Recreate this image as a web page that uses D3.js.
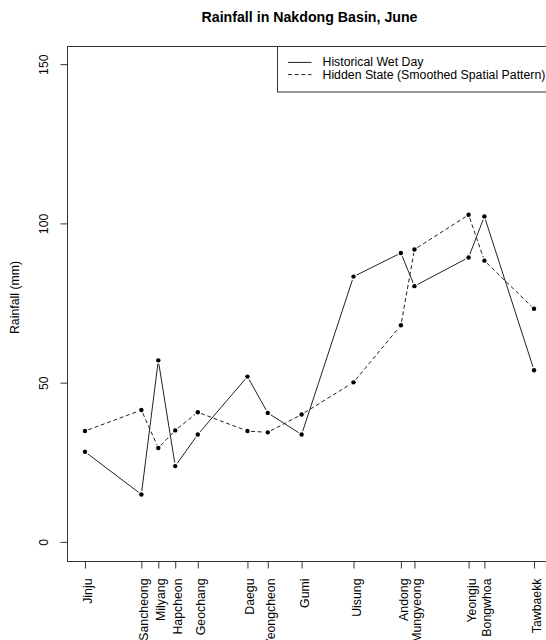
<!DOCTYPE html>
<html>
<head>
<meta charset="utf-8">
<script src="https://cdn.jsdelivr.net/npm/d3@7"></script>
<style>
  html, body { margin: 0; padding: 0; background: #fff; overflow: hidden; }
  svg { display: block; font-family: "Liberation Sans", Arial, sans-serif; }
</style>
</head>
<body>
<script>
// Stations along the Nakdong basin, ordered south to north by latitude
const stations = ["Jinju", "Sancheong", "Milyang", "Hapcheon", "Geochang", "Daegu", "Yeongcheon",
  "Gumi", "Uisung", "Andong", "Mungyeong", "Yeongju", "Bongwhoa", "Tawbaekk"];
const latitude = [35.18, 35.43, 35.505, 35.58, 35.68, 35.90, 35.99,
  36.14, 36.37, 36.58, 36.64, 36.88, 36.95, 37.17];
// June rainfall (mm)
const historicalWetDay = [28.3, 14.9, 57.0, 23.8, 33.7, 51.9, 40.5,
  33.7, 83.3, 90.7, 80.3, 89.3, 102.2, 53.9];
const hiddenState = [34.8, 41.4, 29.5, 35.0, 40.7, 34.8, 34.4,
  40.0, 50.1, 68.0, 91.8, 102.7, 88.3, 73.2];
const yTicks = [0, 50, 100, 150];

const W = 546, H = 640;
const plot = { left: 67, right: 552, top: 46, bottom: 561 };
const fontSize = 12.3;

const svg = d3.select("body").append("svg").attr("width", W).attr("height", H);

// R-style 4% padding on the x range
const [xmin, xmax] = d3.extent(latitude);
const xpad = (xmax - xmin) * 0.04;
const x = d3.scaleLinear().domain([xmin - xpad, xmax + xpad]).range([plot.left, plot.right]);
const y = d3.scaleLinear().domain([-6, 155.7]).range([plot.bottom, plot.top]);

const axisColor = "#333";

// Title
svg.append("text")
  .attr("x", (plot.left + plot.right) / 2).attr("y", 21.5)
  .attr("text-anchor", "middle").attr("font-weight", "bold").attr("font-size", 14.2)
  .attr("fill", "#000")
  .text("Rainfall in Nakdong Basin, June");

// Plot frame
svg.append("rect")
  .attr("x", plot.left + 0.5).attr("y", plot.top + 0.5)
  .attr("width", plot.right - plot.left).attr("height", plot.bottom - plot.top)
  .attr("fill", "none").attr("stroke", axisColor).attr("stroke-width", 1);

// Y axis
const yAxis = d3.axisLeft(y).tickValues(yTicks).tickSize(7).tickPadding(0).tickFormat(d3.format("d"));
const yg = svg.append("g").attr("transform", `translate(${plot.left + 0.5},0)`).call(yAxis);
yg.select(".domain").attr("stroke", axisColor)
  .attr("d", `M0,${y(0)}V${y(150)}`);
yg.selectAll(".tick line").attr("stroke", axisColor);
yg.selectAll(".tick text")
  .attr("font-size", fontSize).attr("fill", "#000").attr("font-family", "Liberation Sans, Arial, sans-serif")
  .attr("x", null).attr("dy", null)
  .attr("text-anchor", "middle")
  .attr("transform", "translate(-24,0) rotate(-90)")
  .attr("dominant-baseline", "central");

// Y axis title
svg.append("text")
  .attr("transform", `translate(15,${(plot.top + plot.bottom) / 2 - 6}) rotate(-90)`)
  .attr("text-anchor", "middle").attr("dominant-baseline", "central")
  .attr("font-size", fontSize).attr("fill", "#000")
  .text("Rainfall (mm)");

// X axis with station names
const xAxis = d3.axisBottom(x).tickValues(latitude).tickSize(7).tickPadding(0)
  .tickFormat((d, i) => stations[i]);
const xg = svg.append("g").attr("transform", `translate(0,${plot.bottom + 0.5})`).call(xAxis);
xg.select(".domain").attr("stroke", axisColor)
  .attr("d", `M${x(xmin)},0H${x(xmax)}`);
xg.selectAll(".tick line").attr("stroke", axisColor);
xg.selectAll(".tick text")
  .attr("font-size", fontSize).attr("fill", "#000").attr("font-family", "Liberation Sans, Arial, sans-serif")
  .attr("y", null).attr("dy", null)
  .attr("text-anchor", "end")
  .attr("dominant-baseline", "central")
  .attr("transform", "translate(2.5,17) rotate(-90)");

// Series
const series = [
  { name: "Historical Wet Day", values: historicalWetDay, dash: null },
  { name: "Hidden State (Smoothed Spatial Pattern)", values: hiddenState, dash: "4,2.7" }
];

series.forEach(s => {
  const pts = latitude.map((lat, i) => [lat, s.values[i]]);
  // segments with a small gap around points, as in type = "b"
  const gap = 3.5;
  for (let i = 0; i < pts.length - 1; i++) {
    const x0 = x(pts[i][0]), y0 = y(pts[i][1]);
    const x1 = x(pts[i + 1][0]), y1 = y(pts[i + 1][1]);
    const len = Math.hypot(x1 - x0, y1 - y0);
    if (len <= 2 * gap) continue;
    const ux = (x1 - x0) / len, uy = (y1 - y0) / len;
    svg.append("path")
      .attr("d", `M${x0 + ux * gap},${y0 + uy * gap}L${x1 - ux * gap},${y1 - uy * gap}`)
      .attr("fill", "none").attr("stroke", "#222").attr("stroke-width", 1)
      .attr("stroke-dasharray", s.dash);
  }
  svg.append("g").selectAll("circle").data(pts).join("circle")
    .attr("cx", d => x(d[0])).attr("cy", d => y(d[1])).attr("r", 2.2)
    .attr("fill", "#000");
});

// Legend
const lg = svg.append("g");
lg.append("rect")
  .attr("x", 277.5).attr("y", plot.top + 0.5).attr("width", 300).attr("height", 45.5)
  .attr("fill", "#fff").attr("stroke", axisColor).attr("stroke-width", 1);
series.forEach((s, i) => {
  const ly = 62.4 + i * 12.2;
  lg.append("line")
    .attr("x1", 288).attr("x2", 311.5).attr("y1", ly).attr("y2", ly)
    .attr("stroke", "#222").attr("stroke-width", 1).attr("stroke-dasharray", s.dash);
  lg.append("text")
    .attr("x", 322.5).attr("y", ly).attr("dominant-baseline", "central")
    .attr("font-size", fontSize).attr("fill", "#000")
    .text(s.name);
});
</script>
</body>
</html>
